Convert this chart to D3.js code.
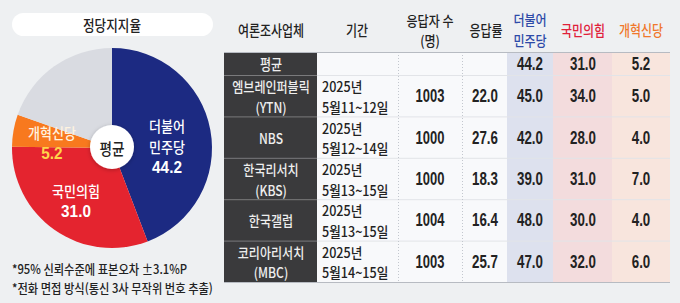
<!DOCTYPE html>
<html>
<head>
<meta charset="utf-8">
<script src="https://cdn.jsdelivr.net/npm/d3@7"></script>
<style>
  html, body { margin: 0; padding: 0; background: #eef0f2; }
  #wrap { position: relative; width: 680px; height: 303px; overflow: hidden; }
  svg { display: block; position: absolute; left: 0; top: 0; }
  .lbl {
    position: absolute; white-space: nowrap;
    font-family: "Noto Sans CJK KR", "Noto Sans", sans-serif; font-weight: 500;
    color: #222;
  }
  .lbl span { display: block; }
  .num { font-family: "Liberation Sans", Arial, sans-serif; font-weight: bold; }
</style>
</head>
<body>
<div id="wrap"><svg id="chart" width="680" height="303"></svg></div>
<script>
// average support (pie)
const parties = ['더불어민주당', '국민의힘', '개혁신당'];
const avgSupport = [44.2, 31.0, 5.2];

// poll table
const pollsters = ['엠브레인퍼블릭|(YTN)', 'NBS', '한국리서치|(KBS)', '한국갤럽', '코리아리서치|(MBC)'];
const periods = ['5월11~12일', '5월12~14일', '5월13~15일', '5월13~15일', '5월14~15일'];
const respondents = [1003, 1000, 1000, 1004, 1003];
const responseRates = [22.0, 27.6, 18.3, 16.4, 25.7];
const demValues = [45.0, 42.0, 39.0, 48.0, 47.0];
const pppValues = [34.0, 28.0, 31.0, 30.0, 32.0];
const reformValues = [5.0, 4.0, 7.0, 4.0, 6.0];
const notes = ['*95% 신뢰수준에 표본오차 ±3.1%P', '*전화 면접 방식(통신 3사 무작위 번호 추출)'];

const svg = d3.select('#chart');
const wrap = d3.select('#wrap');

// text goes in an html layer: the korean gothic of the reference is narrow
// (scaleX) and lines sit tight (line-height).  x,y = anchor point, centred vertically
function label(x, y, lines, o) {
  o = o || {};
  if (!Array.isArray(lines)) lines = [{t: lines}];
  const start = o.anchor === 'start';
  const d = wrap.append('div')
    .attr('class', 'lbl' + (o.cls ? ' ' + o.cls : ''))
    .style('left', x + 'px').style('top', y + 'px')
    .style('font-size', (o.size || 15) + 'px')
    .style('line-height', (o.lh || 18) + 'px')
    .style('text-align', start ? 'left' : 'center')
    .style('color', o.fill || '#222')
    .style('transform-origin', start ? '0 50%' : '50% 50%')
    .style('transform', (start ? 'translateY(-50%)' : 'translate(-50%,-50%)') + ' scaleX(' + (o.sx || 0.8) + ')');
  lines.forEach(l => {
    d.append('span')
      .attr('class', l.cls || null)
      .style('font-size', l.size ? l.size + 'px' : null)
      .style('color', l.fill || null)
      .text(l.t);
  });
  return d;
}

const defs = svg.append('defs');
const sh = defs.append('filter').attr('id', 'sh').attr('x', '-50%').attr('y', '-50%').attr('width', '200%').attr('height', '200%');
sh.append('feDropShadow').attr('dx', 0).attr('dy', 1).attr('stdDeviation', 2).attr('flood-color', '#000').attr('flood-opacity', 0.25);

// ---------- left: pie ----------
svg.append('rect')
  .attr('x', 12).attr('y', 13).attr('width', 201).attr('height', 23)
  .attr('rx', 11.5).attr('fill', '#fff');
label(112, 24.5, '정당지지율', {size: 15, sx: 0.84});

const pieColors = d3.scaleOrdinal()
  .domain(parties.concat(['기타']))
  .range(['#1c2a82', '#e4242f', '#f8791e', '#d9dbe1']);

const pieData = parties.map((p, i) => ({name: p, value: avgSupport[i]}));
pieData.push({name: '기타', value: 100 - d3.sum(avgSupport)});

const cx = 112, cy0 = 148;
const pie = d3.pie().sort(null).value(d => d.value);
const arc = d3.arc().innerRadius(0).outerRadius(100);

const pg = svg.append('g').attr('transform', 'translate(' + cx + ',' + cy0 + ')');
pg.selectAll('path')
  .data(pie(pieData))
  .join('path')
  .attr('d', arc)
  .attr('fill', d => pieColors(d.data.name));

pg.append('circle').attr('cx', 0).attr('cy', -1).attr('r', 22)
  .attr('fill', '#fff').attr('filter', 'url(#sh)');
label(cx, cy0, '평균', {size: 16, sx: 0.85});

// slice labels
label(cx + 55, cy0 - 2, [
  {t: '더불어'},
  {t: '민주당'},
  {t: avgSupport[0].toFixed(1), cls: 'num', size: 17}
], {size: 14.5, sx: 0.9, fill: '#fff', lh: 21});
label(cx - 36, cy0 + 52.5, [
  {t: '국민의힘'},
  {t: avgSupport[1].toFixed(1), cls: 'num', size: 17}
], {size: 14.5, sx: 0.9, fill: '#fff', lh: 21});
label(cx - 60, cy0 - 5, [
  {t: '개혁신당', fill: '#fff3e0'},
  {t: avgSupport[2].toFixed(1), cls: 'num', size: 17, fill: '#ffd54a'}
], {size: 14.5, sx: 0.9, lh: 21});

label(12, 278, notes.map(n => ({t: n})), {anchor: 'start', size: 12.8, sx: 0.88, lh: 19});

// ---------- right: table ----------
const colKeys = ['org', 'period', 'n', 'rate', 'dem', 'ppp', 'reform'];
const colEdges = [224, 317, 398, 462, 507, 553, 612, 670];
const colX0 = d3.scaleOrdinal().domain(colKeys).range(colEdges.slice(0, -1));
const colW = d3.scaleOrdinal().domain(colKeys).range(colKeys.map((k, i) => colEdges[i + 1] - colEdges[i]));
const colMid = k => colX0(k) + colW(k) / 2;

const headTop = 52, avgBottom = 75, tableBottom = 282;
const y = d3.scaleBand().domain(pollsters).range([avgBottom, tableBottom]);

const t = svg.append('g');

// column backgrounds
const bodyFill = {org: '#3a3a3c', period: '#f8f9fb', n: '#f8f9fb', rate: '#f8f9fb',
  dem: '#dde1ee', ppp: '#f3dcdd', reform: '#f8e5dd'};
t.selectAll('rect.col')
  .data(colKeys)
  .join('rect')
  .attr('class', 'col')
  .attr('x', k => colX0(k)).attr('y', headTop)
  .attr('width', k => colW(k)).attr('height', tableBottom - headTop)
  .attr('fill', k => bodyFill[k]);

// row lines
const rowLines = [avgBottom].concat(pollsters.slice(1).map(p => y(p)));
t.selectAll('line.rowl')
  .data(rowLines)
  .join('line')
  .attr('x1', colEdges[1]).attr('x2', colEdges[7])
  .attr('y1', d => d + 0.5).attr('y2', d => d + 0.5)
  .attr('stroke', '#e2e4e8');
t.selectAll('line.rowd')
  .data(rowLines)
  .join('line')
  .attr('x1', colEdges[0]).attr('x2', colEdges[1])
  .attr('y1', d => d + 0.5).attr('y2', d => d + 0.5)
  .attr('stroke', '#7a7a7c');

// dotted separators
t.selectAll('line.vd')
  .data(['n', 'rate'])
  .join('line')
  .attr('x1', k => colX0(k) + 0.5).attr('x2', k => colX0(k) + 0.5)
  .attr('y1', headTop).attr('y2', tableBottom)
  .attr('stroke', '#c3c7ce').attr('stroke-dasharray', '1,2');

// header / bottom rules
[headTop, tableBottom].forEach(v => {
  t.append('line')
    .attr('x1', colEdges[0]).attr('x2', colEdges[7])
    .attr('y1', v + 0.5).attr('y2', v + 0.5)
    .attr('stroke', '#b7bbc2').attr('stroke-width', 1.2);
});

// header texts
label(colMid('org'), 30, '여론조사업체', {size: 15, sx: 0.8});
label(357, 30, '기간', {size: 15, sx: 0.8});
label(colMid('n'), 29.5, [{t: '응답자 수'}, {t: '(명)'}], {size: 14, sx: 0.86, lh: 20.5});
label(colMid('rate') + 1, 30, '응답률', {size: 15, sx: 0.8});
label(colMid('dem'), 29, [{t: '더불어'}, {t: '민주당'}], {size: 14, sx: 0.86, fill: '#2d4aa8', lh: 20.5});
label(colMid('ppp'), 30, '국민의힘', {size: 15, sx: 0.8, fill: '#e0203a'});
label(colMid('reform'), 30, '개혁신당', {size: 15, sx: 0.8, fill: '#f0782c'});

// average row
const avgMid = (headTop + avgBottom) / 2 + 0.5;
label(colMid('org'), avgMid, '평균', {size: 14.5, sx: 0.83, fill: '#eeeeee'});
['dem', 'ppp', 'reform'].forEach((k, i) => {
  label(colMid(k), avgMid, avgSupport[i].toFixed(1), {cls: 'num', size: 18, sx: 0.74});
});

// poll rows
pollsters.forEach((p, i) => {
  const cy = y(p) + y.bandwidth() / 2 + 0.5;
  const parts = p.split('|');
  label(colMid('org'), cy, parts.map(s => ({t: s})), {size: 14, sx: 0.86, fill: '#eeeeee', lh: 20.5});
  label(322, cy, [{t: '2025년'}, {t: periods[i]}], {anchor: 'start', size: 14, sx: 0.9, lh: 20.5});
  label(430, cy, respondents[i], {cls: 'num', size: 18, sx: 0.72});
  label(colMid('rate'), cy, responseRates[i].toFixed(1), {cls: 'num', size: 18, sx: 0.74});
  label(colMid('dem'), cy, demValues[i].toFixed(1), {cls: 'num', size: 18, sx: 0.74});
  label(colMid('ppp'), cy, pppValues[i].toFixed(1), {cls: 'num', size: 18, sx: 0.74});
  label(colMid('reform'), cy, reformValues[i].toFixed(1), {cls: 'num', size: 18, sx: 0.74});
});
</script>
</body>
</html>
